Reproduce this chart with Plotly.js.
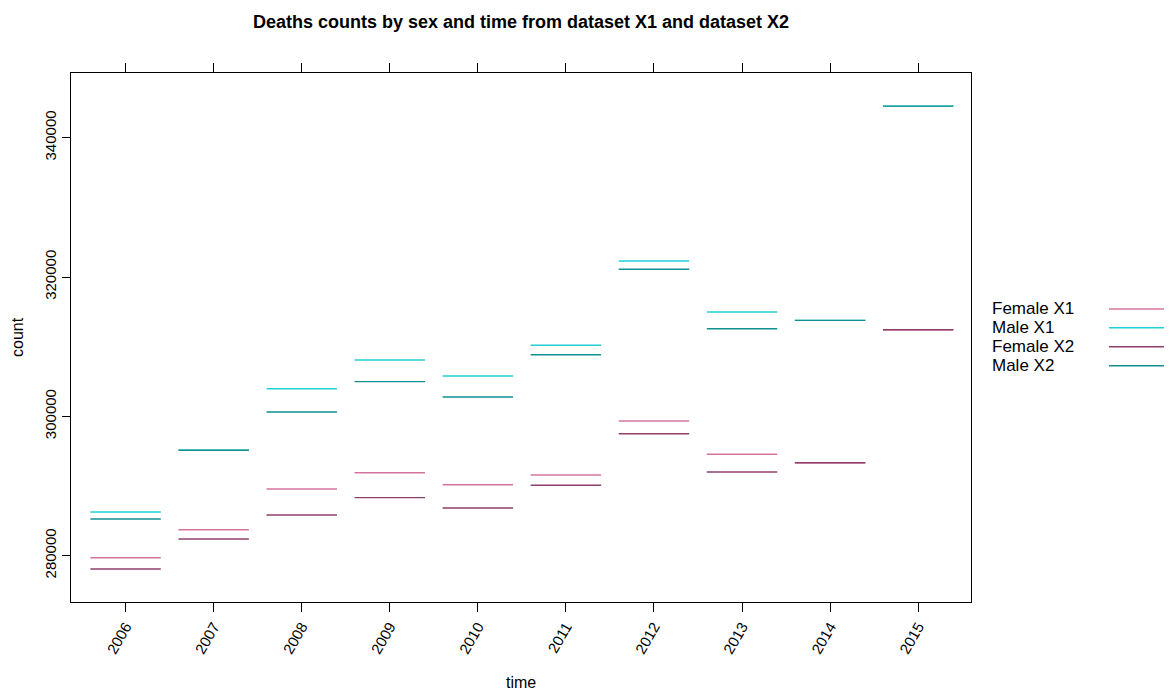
<!DOCTYPE html>
<html>
<head>
<meta charset="utf-8">
<script src="https://cdn.plot.ly/plotly-3.0.1.min.js"></script>
<style>html,body{margin:0;padding:0;background:#fff;}#chart{width:1170px;height:696px;}</style>
</head>
<body>
<div id="chart"></div>
<script>
// ---- data ----
var years = [2006, 2007, 2008, 2009, 2010, 2011, 2012, 2013, 2014, 2015];
var seriesNames = ["Female X1", "Male X1", "Female X2", "Male X2"];
var femaleX1 = [279710, 283730, 289570, 291910, 290190, 291580, 299330, 294550, 293350, 312440];
var maleX1   = [286270, 295130, 303970, 308090, 305790, 310200, 322300, 314980, 313780, 344540];
var femaleX2 = [278090, 282400, 285840, 288330, 286850, 290100, 297510, 292010, 293350, 312440];
var maleX2   = [285270, 295130, 300630, 304980, 302780, 308850, 321110, 312580, 313780, 344540];
var yTicks = [280000, 300000, 320000, 340000];
var seriesColors = ["#D5739F", "#22D0D6", "#8E3F6B", "#10908F"];

var allValues = [femaleX1, maleX1, femaleX2, maleX2];
var halfWidth = 0.4;
var font = "Liberation Sans, Arial, Helvetica, sans-serif";

var traces = allValues.map(function (vals, i) {
  var xs = [], ys = [];
  years.forEach(function (yr, j) {
    xs.push(yr - halfWidth, yr + halfWidth, null);
    ys.push(vals[j], vals[j], null);
  });
  return {
    type: "scatter", mode: "lines", name: seriesNames[i],
    x: xs, y: ys, connectgaps: false,
    line: {color: seriesColors[i], width: 1.4},
    showlegend: false, hoverinfo: "skip"
  };
});

// custom key (text on left, line sample on right) like lattice
var keyY = [0.5539, 0.5185, 0.4826, 0.4467];
var annotations = seriesNames.map(function (n, i) {
  return {xref: "paper", yref: "paper", x: 1.0210, y: keyY[i], xanchor: "left", yanchor: "middle",
          text: n, showarrow: false, font: {family: font, size: 17, color: "#000"}};
});
annotations.push({xref: "paper", yref: "paper", x: -0.0589, y: 0.501, text: "count", textangle: -90,
  showarrow: false, xanchor: "center", yanchor: "middle", font: {family: font, size: 16, color: "#000"}});
annotations.push({xref: "paper", yref: "paper", x: 0.5, y: -0.153, text: "time",
  showarrow: false, xanchor: "center", yanchor: "middle", font: {family: font, size: 16, color: "#000"}});
var shapes = seriesNames.map(function (n, i) {
  return {type: "line", xref: "paper", yref: "paper", x0: 1.1533, x1: 1.2144, y0: keyY[i], y1: keyY[i],
          line: {color: seriesColors[i], width: 1.4}};
});

var layout = {
  width: 1170, height: 696,
  margin: {l: 71, r: 199, t: 73, b: 94, pad: 0},
  paper_bgcolor: "#fff", plot_bgcolor: "#fff",
  font: {family: font, color: "#000"},
  title: {text: "<b>Deaths counts by sex and time from dataset X1 and dataset X2</b>",
          x: 0.5, xref: "paper", y: 1 - 22 / 696, yref: "container", yanchor: "middle",
          font: {family: font, size: 18, color: "#000"}},
  xaxis: {
    range: [2005.38, 2015.6], tickmode: "array", tickvals: years, ticktext: years.map(String),
    tickangle: -60, ticks: "outside", ticklen: 9, tickwidth: 1, tickcolor: "#000",
    showline: true, linecolor: "#000", linewidth: 1, mirror: "ticks",
    showgrid: false, zeroline: false, tickfont: {family: font, size: 15, color: "#000"}
  },
  yaxis: {
    range: [273350, 349290], tickmode: "array", tickvals: yTicks, ticktext: yTicks.map(String),
    tickangle: -90, ticks: "outside", ticklen: 8, tickwidth: 1, tickcolor: "#000",
    showline: true, linecolor: "#000", linewidth: 1, mirror: true,
    showgrid: false, zeroline: false, tickfont: {family: font, size: 15, color: "#000"}
  },
  annotations: annotations,
  shapes: shapes
};

Plotly.newPlot("chart", traces, layout, {displayModeBar: false, staticPlot: true});
</script>
</body>
</html>
